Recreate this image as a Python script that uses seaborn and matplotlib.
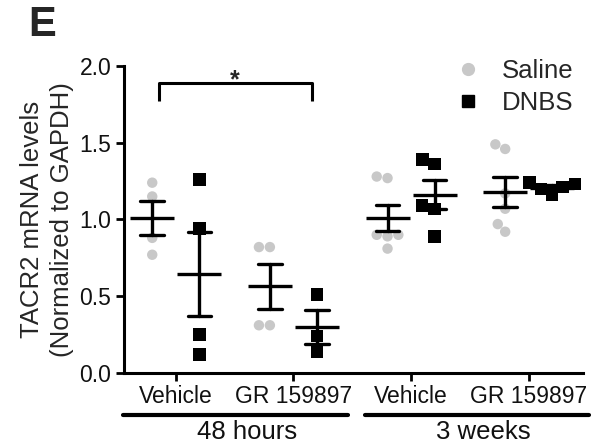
import numpy as np
import pandas as pd
import matplotlib
matplotlib.use("Agg")
import matplotlib.pyplot as plt
import seaborn as sns
from matplotlib.lines import Line2D

sns.set_style("ticks")
plt.rcParams['font.family'] = ['Liberation Sans', 'DejaVu Sans']

conditions = ["Vehicle 48h", "GR 48h", "Vehicle 3w", "GR 3w"]
tick_labels = ["Vehicle", "GR 159897", "Vehicle", "GR 159897"]
groups = ["Saline", "DNBS"]

saline_veh_48h = [1.24, 1.15, 0.88, 0.77]
dnbs_veh_48h = [1.26, 0.94, 0.25, 0.12]
saline_gr_48h = [0.82, 0.82, 0.31, 0.31]
dnbs_gr_48h = [0.51, 0.24, 0.14]
saline_veh_3w = [1.27, 1.28, 0.90, 0.90, 0.89, 0.81]
dnbs_veh_3w = [1.36, 1.39, 1.09, 1.07, 0.89]
saline_gr_3w = [1.49, 1.46, 1.17, 1.07, 0.97, 0.92]
dnbs_gr_3w = [1.23, 1.21, 1.24, 1.16, 1.20]

series = [
    ("Vehicle 48h", "Saline", saline_veh_48h),
    ("Vehicle 48h", "DNBS", dnbs_veh_48h),
    ("GR 48h", "Saline", saline_gr_48h),
    ("GR 48h", "DNBS", dnbs_gr_48h),
    ("Vehicle 3w", "Saline", saline_veh_3w),
    ("Vehicle 3w", "DNBS", dnbs_veh_3w),
    ("GR 3w", "Saline", saline_gr_3w),
    ("GR 3w", "DNBS", dnbs_gr_3w),
]
rows = []
for cond, grp, vals in series:
    for v in vals:
        rows.append({"cond": cond, "group": grp, "value": v})
df = pd.DataFrame(rows)

fig = plt.figure(figsize=(5.99, 4.47), dpi=100)
ax = fig.add_axes([0.207, 0.166, 0.766, 0.686])

palette = {"Saline": "#c8c8c8", "DNBS": "#000000"}

sns.swarmplot(data=df, x="cond", y="value", hue="group", order=conditions,
              hue_order=groups, dodge=True, palette=palette, size=7.5,
              ax=ax, legend=False, linewidth=0, zorder=1)
# square markers for DNBS
for c in ax.collections:
    fc = c.get_facecolor()
    if len(fc) and fc[0][0] < 0.2:
        c.set_paths([matplotlib.path.Path.unit_rectangle().transformed(
            matplotlib.transforms.Affine2D().translate(-0.5, -0.5))])
        c.set_sizes([80])

sns.pointplot(data=df, x="cond", y="value", hue="group", order=conditions,
              hue_order=groups, dodge=0.4, errorbar="se", capsize=0.2,
              palette={"Saline": "black", "DNBS": "black"},
              markers="_", markersize=31, markeredgewidth=2.4,
              linestyle="none", err_kws={"linewidth": 2.4},
              ax=ax, legend=False, zorder=3)

ax.set_ylim(0, 2.0)
ax.set_xlim(-0.44, 3.46)
ax.set_yticks([0, 0.5, 1.0, 1.5, 2.0])
ax.set_yticklabels(["0.0", "0.5", "1.0", "1.5", "2.0"])
ax.set_xticks(range(4))
ax.set_xticklabels(tick_labels)
ax.set_xlabel("")
ax.set_ylabel("TACR2 mRNA levels\n(Normalized to GAPDH)", fontsize=18.5,
              linespacing=1.3, labelpad=4)
ax.tick_params(axis="both", labelsize=16.5, width=2, length=6, color="black",
               labelcolor="#111111", pad=3)
for s in ["left", "bottom"]:
    ax.spines[s].set_linewidth(2.2)
    ax.spines[s].set_color("black")
sns.despine(ax=ax)

# significance bracket
ax.plot([-0.144, -0.144, 1.155, 1.155], [1.77, 1.89, 1.89, 1.77],
        color="black", lw=2.2, solid_capstyle="butt", clip_on=False)
ax.text(0.5, 1.905, "*", ha="center", va="center", fontsize=18,
        fontweight="bold")

# group lines under the axis
fy = 1 - 415 / 447
fig.add_artist(Line2D([123 / 599, 348 / 599], [fy, fy], color="black", lw=3))
fig.add_artist(Line2D([365 / 599, 589 / 599], [fy, fy], color="black", lw=3))
fig.text(247 / 599, 1 - 432 / 447, "48 hours", ha="center", va="center",
         fontsize=18.5, color="#111111")
fig.text(483 / 599, 1 - 432 / 447, "3 weeks", ha="center", va="center",
         fontsize=18.5, color="#111111")

# legend
handles = [Line2D([], [], marker="o", ls="none", color="#c8c8c8", markersize=8.5),
           Line2D([], [], marker="s", ls="none", color="black", markersize=8.5)]
ax.legend(handles, groups, loc="upper right", bbox_to_anchor=(1.013, 1.075),
          frameon=False, fontsize=18.5, handletextpad=0.3, labelspacing=0.33,
          borderaxespad=0.2)

fig.text(28 / 599, 1 - 25 / 447, "E", fontsize=30, fontweight="bold",
         ha="left", va="center")

fig.savefig("out.png", dpi=100)
